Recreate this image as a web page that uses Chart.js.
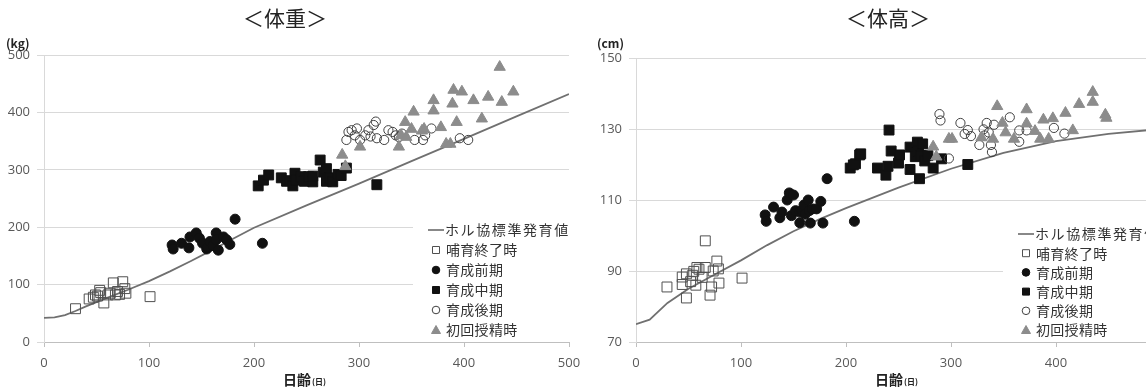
<!DOCTYPE html>
<html>
<head>
<meta charset="utf-8">
<script src="https://cdn.jsdelivr.net/npm/chart.js@4.4.0/dist/chart.umd.min.js"></script>
<style>
html, body { margin: 0; padding: 0; background: #fff; overflow: hidden; width: 1146px; height: 390px; }
#boxL { position: absolute; left: 0; top: 0; width: 590px; height: 390px; }
#boxR { position: absolute; left: 590px; top: 0; width: 620px; height: 390px; }
</style>
</head>
<body>
<div id="boxL"><canvas id="weight" width="590" height="390"></canvas></div>
<div id="boxR"><canvas id="height" width="620" height="390"></canvas></div>
<script>
// legend names (same for both charts)
const seriesNames = ["ホル協標準発育値", "哺育終了時", "育成前期", "育成中期", "育成後期", "初回授精時"];
const xTicks = [0, 100, 200, 300, 400, 500];

// ---- 体重 (kg) ----
const stdDaysW = [0, 10, 20, 30, 40, 60, 80, 100, 120, 140, 160, 180, 200, 250, 300, 350, 400, 450, 500];
const stdKg = [42, 43, 47, 54, 62, 77, 91, 106, 123, 141, 160, 180, 199, 238, 276, 315, 354, 393, 432];

const weanDaysW = [30, 43, 47, 49, 51, 53, 54, 57, 61, 63, 66, 68, 70, 72, 75, 77, 78, 101];
const weanKg = [58, 75, 78, 82, 80, 90, 86, 68, 82, 85, 103, 82, 88, 83, 105, 93, 85, 79];

const earlyDaysW = [122, 123, 131, 138, 139, 145, 148, 151, 155, 156, 158, 161, 164, 164, 166, 171, 174, 177, 182, 208];
const earlyKg = [169, 162, 172, 164, 183, 190, 181, 172, 162, 165, 175, 168, 190, 178, 160, 183, 178, 170, 214, 172];

const midDaysW = [204, 209, 214, 226, 231, 234, 237, 239, 240, 245, 248, 252, 256, 256, 263, 266, 269, 269, 272, 275, 280, 283, 288, 317];
const midKg = [272, 282, 291, 286, 280, 281, 272, 294, 282, 288, 280, 288, 279, 289, 317, 296, 302, 280, 286, 279, 292, 290, 303, 274];

const lateDaysW = [288, 290, 293, 296, 298, 301, 306, 309, 311, 314, 316, 317, 324, 328, 332, 335, 338, 341, 353, 361, 363, 369, 396, 404];
const lateKg = [352, 366, 369, 360, 372, 352, 360, 369, 358, 378, 384, 355, 352, 369, 366, 360, 357, 363, 352, 352, 360, 372, 355, 352];

const aiDaysW = [284, 287, 301, 338, 340, 344, 345, 350, 352, 360, 362, 371, 371, 378, 383, 387, 389, 390, 393, 398, 409, 417, 423, 434, 436, 447];
const aiKg = [326, 306, 340, 340, 360, 383, 357, 371, 401, 368, 371, 421, 403, 374, 345, 345, 415, 439, 383, 436, 421, 389, 427, 479, 418, 436];

// ---- 体高 (cm) ----
const stdDaysH = [0, 13, 30, 50, 75, 100, 125, 150, 175, 200, 250, 300, 350, 400, 450, 500];
const stdCm = [75, 76.3, 81, 85, 89, 93, 97.3, 101.2, 104.6, 107.7, 113.5, 118.8, 123.3, 126.6, 128.6, 130];

const weanDaysH = [29.5, 44, 44, 48, 48, 52, 54, 55, 57, 58, 60, 63, 66, 66, 70.5, 72, 73.5, 77, 78.5, 79, 101];
const weanCm = [85.5, 88.3, 86.2, 82.4, 89.2, 87, 88.8, 89.9, 86, 91, 90.5, 88.2, 98.5, 91, 83.2, 85.5, 90, 92.8, 90.6, 86.6, 88];

const earlyDaysH = [123, 124, 131, 137, 139, 144, 146, 148, 150, 152, 156, 156, 158, 160, 161, 164, 165, 166, 168, 172, 176, 178, 182, 208];
const earlyCm = [105.8, 104, 108, 105, 106.6, 110, 112, 105.6, 111.4, 107, 103.6, 106.6, 107, 108.6, 106, 110, 107, 103.5, 107.5, 107.5, 109.6, 103.5, 116, 104];

const midDaysH = [204, 207, 209, 213, 214, 230, 238, 240, 241, 243, 250, 251, 261, 261, 266, 268, 269, 270, 271, 273, 275, 278, 283, 291, 316];
const midCm = [119, 119.9, 120.2, 122.7, 123, 119, 117, 119.5, 129.7, 123.8, 120.4, 122.7, 124.9, 118.6, 122.2, 126.3, 123.7, 116, 122.5, 125.8, 121, 122.5, 119, 121.6, 120];

const lateDaysH = [289, 290, 298, 309, 313, 316, 319, 327, 331, 332, 334, 336, 338, 339, 341, 356, 365, 365, 372, 398, 408];
const lateCm = [134.2, 132.4, 121.7, 131.7, 128.6, 129.7, 128, 125.5, 129.9, 128.2, 131.7, 129, 125.5, 123.5, 131.2, 133.3, 129.6, 126.4, 129.6, 130.3, 128.7];

const aiDaysH = [283, 286, 298, 301, 329, 340, 344, 349, 352, 360, 372, 372, 380, 385, 388, 393, 397, 409, 416, 422, 435, 435, 447, 448];
const aiCm = [125, 122.2, 127.2, 127.2, 127.6, 127.2, 136.4, 131.7, 129, 127.2, 135.5, 131.5, 129.4, 127.2, 132.6, 127.2, 133, 134.5, 129.6, 137, 140.4, 137.6, 134, 133.1];

// marker looks for the 5 scatter groups
const marks = [
	{ pointStyle: "rect", radius: 7, bg: "rgba(0,0,0,0)", border: "#505050", bw: 1 },
	{ pointStyle: "circle", radius: 5, bg: "#111111", border: "#111111", bw: 1 },
	{ pointStyle: "rect", radius: 7, bg: "#111111", border: "#111111", bw: 1 },
	{ pointStyle: "circle", radius: 4.6, bg: "rgba(0,0,0,0)", border: "#404040", bw: 1 },
	{ pointStyle: "triangle", radius: 6.5, bg: "#8c8c8c", border: "#8c8c8c", bw: 1 },
];

function zip(xs, ys) {
	return xs.map((x, i) => ({ x: x, y: ys[i] }));
}

// draws titles, unit, x title and the boxed legend
const decor = {
	id: "decor",
	afterDraw(chart, args, o) {
		const ctx = chart.ctx;
		const a = chart.chartArea;
		ctx.save();
		ctx.fillStyle = "#222";
		ctx.textBaseline = "middle";
		ctx.textAlign = "center";
		ctx.font = '21px "Noto Sans CJK JP"';
		ctx.fillText(o.title, o.titleX, 18);
		ctx.textAlign = "left";
		ctx.font = 'bold 12px "Noto Sans CJK JP"';
		ctx.fillText(o.unit, o.unitX, 43);
		ctx.font = 'bold 14px "Noto Sans CJK JP"';
		ctx.fillText("日齢", o.xtX, 380);
		let w = ctx.measureText("日齢").width;
		ctx.font = 'bold 8px "Noto Sans CJK JP"';
		ctx.fillText("(日)", o.xtX + w + 1, 382);

		// legend
		ctx.fillStyle = "#fff";
		ctx.fillRect(o.legX, o.legY - 12, a.right - o.legX, a.bottom - 1 - (o.legY - 12));
		for (let i = 0; i < seriesNames.length; i++) {
			let y = o.legY + i * o.legStep;
			if (i == 0) {
				ctx.strokeStyle = "#606060";
				ctx.lineWidth = 1.5;
				ctx.beginPath();
				ctx.moveTo(o.legX + 15, y);
				ctx.lineTo(o.legX + 31, y);
				ctx.stroke();
			} else {
				let m = marks[i - 1];
				let cx = o.legX + 23;
				ctx.fillStyle = m.bg;
				ctx.strokeStyle = m.border;
				ctx.lineWidth = 1;
				ctx.beginPath();
				if (m.pointStyle == "rect") ctx.rect(cx - 3.5, y - 3.5, 7, 7);
				else if (m.pointStyle == "circle") ctx.arc(cx, y, 3.8, 0, Math.PI * 2);
				else {
					ctx.moveTo(cx, y - 4.5);
					ctx.lineTo(cx + 4.5, y + 3.5);
					ctx.lineTo(cx - 4.5, y + 3.5);
					ctx.closePath();
				}
				ctx.fill();
				ctx.stroke();
			}
			ctx.fillStyle = "#333";
			ctx.font = '14px "Noto Sans CJK JP"';
			ctx.letterSpacing = i == 0 ? "1.6px" : "0.3px";
			ctx.fillText(seriesNames[i], o.legX + (i == 0 ? 32 : 33), y);
		}
		ctx.restore();
	},
};

function makeChart(id, std, groups, yMin, yMax, yStep, layout, deco) {
	let datasets = [
		{
			label: seriesNames[0],
			data: std,
			showLine: true,
			borderColor: "#707070",
			borderWidth: 1.8,
			pointRadius: 0,
			fill: false,
			tension: 0,
			order: 10,
		},
	];
	groups.forEach((g, i) => {
		let m = marks[i];
		datasets.push({
			label: seriesNames[i + 1],
			data: g,
			pointStyle: m.pointStyle,
			pointRadius: m.radius,
			backgroundColor: m.bg,
			borderColor: m.border,
			borderWidth: m.bw,
			order: 5 - i,
		});
	});
	return new Chart(document.getElementById(id), {
		type: "scatter",
		data: { datasets: datasets },
		plugins: [decor],
		options: {
			responsive: false,
			animation: false,
			layout: { padding: { top: layout.top, right: layout.right, left: 0, bottom: 0 } },
			plugins: {
				legend: { display: false },
				tooltip: { enabled: false },
				decor: deco,
			},
			scales: {
				x: {
					min: 0,
					max: 500,
					afterBuildTicks: (s) => { s.ticks = xTicks.map((v) => ({ value: v })); },
					afterFit: (s) => { s.height = 390 - layout.bottom; },
					grid: { drawOnChartArea: false, tickLength: 5, color: "#bfbfbf" },
					border: { color: "#bfbfbf" },
					ticks: { padding: 8, color: "#595959", font: { family: "Open Sans", size: 13 } },
				},
				y: {
					min: yMin,
					max: yMax,
					ticks: { stepSize: yStep, padding: 7, color: "#595959", font: { family: "Open Sans", size: 13 } },
					afterFit: (s) => { s.width = layout.left; },
					grid: { color: "#d9d9d9", tickLength: 7 },
					border: { color: "#d9d9d9" },
				},
			},
		},
	});
}

makeChart(
	"weight",
	zip(stdDaysW, stdKg),
	[zip(weanDaysW, weanKg), zip(earlyDaysW, earlyKg), zip(midDaysW, midKg), zip(lateDaysW, lateKg), zip(aiDaysW, aiKg)],
	0, 500, 100,
	{ top: 55, right: 21, left: 44, bottom: 342 },
	{ title: "＜体重＞", titleX: 285, unit: "(kg)", unitX: 6, xtX: 283, legX: 413, legY: 230, legStep: 20 }
);

makeChart(
	"height",
	zip(stdDaysH, stdCm),
	[zip(weanDaysH, weanCm), zip(earlyDaysH, earlyCm), zip(midDaysH, midCm), zip(lateDaysH, lateCm), zip(aiDaysH, aiCm)],
	70, 150, 20,
	{ top: 58, right: 49, left: 46, bottom: 342 },
	{ title: "＜体高＞", titleX: 298, unit: "(cm)", unitX: 7, xtX: 285, legX: 413, legY: 234, legStep: 19.2 }
);
</script>
</body>
</html>
